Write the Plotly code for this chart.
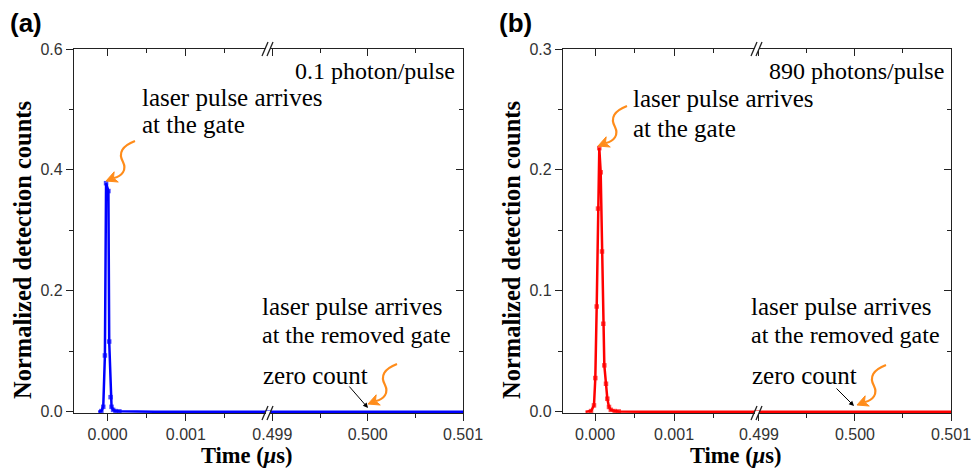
import math
import plotly.graph_objects as go

W, H = 971, 468

# ---------------- data (time in microseconds, normalized counts) ----------------
t_a_peak = [-0.00012, -0.00008, -0.000056, -0.000035, -0.00002, 0.00001, 0.00002,
            0.000038, 0.00005, 0.00007, 0.0001, 0.00015, 0.0003, 0.0006, 0.0009,
            0.0012, 0.0015, 0.0018, 0.0021]
c_a_peak = [0.0, 0.001, 0.008, 0.093, 0.378, 0.365, 0.116,
            0.024, 0.008, 0.003, 0.001, 0.0005, 0.0, 0.0, 0.0,
            0.0, 0.0, 0.0, 0.0]
t_b_peak = [-0.00012, -0.00005, -0.000013, 0.000004, 0.0000215, 0.000038, 0.0000544,
            0.000072, 0.0000886, 0.000105, 0.000118, 0.000139, 0.000156, 0.000177,
            0.0002, 0.00025, 0.0003, 0.0006, 0.0009, 0.0012, 0.0015, 0.0018, 0.0021]
c_b_peak = [0.0, 0.0005, 0.0052, 0.0278, 0.087, 0.168, 0.218,
            0.198, 0.1325, 0.0727, 0.0383, 0.0231, 0.0107, 0.0039,
            0.0015, 0.0005, 0.0002, 0.0, 0.0, 0.0, 0.0, 0.0, 0.0]
t_tail = [0.4989, 0.4992, 0.4995, 0.4998, 0.5001, 0.5004, 0.5007, 0.5010]
c_a_tail = [0.0, 0.0, 0.0, 0.0, 0.0, 0.0, 0.0, 0.0]
c_b_tail = [0.0, 0.0, 0.0, 0.0, 0.0, 0.0, 0.0, 0.0]

x1_ticks = [0.0, 0.001]
x1_labels = ["0.000", "0.001"]
x1_minor = [0.0005, 0.0015]
x2_ticks = [0.499, 0.500, 0.501]
x2_labels = ["0.499", "0.500", "0.501"]
x2_minor = [0.4995, 0.5005]
ya_ticks = [0.0, 0.2, 0.4, 0.6]
ya_labels = ["0.0", "0.2", "0.4", "0.6"]
ya_minor = [0.1, 0.3, 0.5]
yb_ticks = [0.0, 0.1, 0.2, 0.3]
yb_labels = ["0.0", "0.1", "0.2", "0.3"]
yb_minor = [0.05, 0.15, 0.25]

# ---------------- layout geometry (pixel coords -> paper) ----------------
def px(x):
    return x / W

def py(y):
    return 1 - y / H

Y_TOP, Y_BOT = 49, 413
panels = [
    dict(x0=74, xb=268, x1=463, r1=[-0.00043, 0.00205], r2=[0.498954, 0.501],
         yr=[-0.0022, 0.6], yt=ya_ticks, yl=ya_labels, ym=ya_minor,
         t1=t_a_peak, c1=c_a_peak, c2=c_a_tail, color="#0000FF"),
    dict(x0=563, xb=757, x1=951, r1=[-0.000405, 0.00205], r2=[0.49898, 0.501],
         yr=[-0.0011, 0.3], yt=yb_ticks, yl=yb_labels, ym=yb_minor,
         t1=t_b_peak, c1=c_b_peak, c2=c_b_tail, color="#FF0000"),
]

AXC = "#222222"
TICKFONT = dict(family="Liberation Sans", size=16, color="#333333")

def axis_base(ticks):
    return dict(showgrid=False, zeroline=False, showline=True, linecolor=AXC,
                linewidth=1.3, ticks=ticks, ticklen=7, tickwidth=1.2, tickcolor=AXC,
                tickfont=TICKFONT, layer="below traces", automargin=False,
                ticklabeloverflow="allow")

def minor(vals, ticks):
    return dict(tickvals=vals, ticks=ticks, ticklen=4, tickwidth=1.2,
                tickcolor=AXC, showgrid=False)

fig = go.Figure()
layout = dict(template="none", width=W, height=H, margin=dict(l=0, r=0, t=0, b=0, pad=0),
              paper_bgcolor="white", plot_bgcolor="white", showlegend=False)

ydom = [py(Y_BOT), py(Y_TOP)]
for i, p in enumerate(panels):
    xb = 4 * i
    yb = 2 * i
    xa = [f"x{xb + k}" if xb + k > 1 else "x" for k in (1, 2, 3, 4)]
    ya = [f"y{yb + k}" if yb + k > 1 else "y" for k in (1, 2)]
    xn = ["xaxis" + a[1:] for a in xa]
    yn = ["yaxis" + a[1:] for a in ya]
    d1 = [px(p["x0"]), px(p["xb"])]
    d2 = [px(p["xb"]), px(p["x1"])]

    a = axis_base("outside")
    a.update(domain=d1, range=p["r1"], anchor=ya[0], tickvals=x1_ticks, ticktext=x1_labels,
             minor=minor(x1_minor, "outside"))
    layout[xn[0]] = a
    a = axis_base("outside")
    a.update(domain=d2, range=p["r2"], anchor=ya[0], tickvals=x2_ticks, ticktext=x2_labels,
             minor=minor(x2_minor, "outside"))
    layout[xn[1]] = a
    a = axis_base("inside")
    a.update(overlaying=xa[0], side="top", anchor=ya[0], range=p["r1"], tickvals=x1_ticks,
             showticklabels=False, minor=minor(x1_minor, "inside"))
    layout[xn[2]] = a
    a = axis_base("inside")
    a.update(overlaying=xa[1], side="top", anchor=ya[0], range=p["r2"], tickvals=x2_ticks,
             showticklabels=False, minor=minor(x2_minor, "inside"))
    layout[xn[3]] = a
    a = axis_base("outside")
    a.update(domain=ydom, range=p["yr"], anchor=xa[0], tickvals=p["yt"], ticktext=p["yl"],
             minor=minor(p["ym"], "outside"))
    layout[yn[0]] = a
    a = axis_base("inside")
    a.update(overlaying=ya[0], side="right", anchor=xa[1], range=p["yr"], tickvals=p["yt"],
             showticklabels=False, minor=minor(p["ym"], "inside"))
    layout[yn[1]] = a

    sizes1 = [4.5 if c > 0 else 0 for c in p["c1"]]
    fig.add_trace(go.Scatter(x=p["t1"], y=p["c1"], xaxis=xa[0], yaxis=ya[0],
                             mode="lines+markers", hoverinfo="skip",
                             line=dict(color=p["color"], width=2.5),
                             marker=dict(symbol="square", size=sizes1, color=p["color"],
                                         line=dict(width=0))))
    fig.add_trace(go.Scatter(x=t_tail, y=p["c2"], xaxis=xa[1], yaxis=ya[0],
                             mode="lines", hoverinfo="skip",
                             line=dict(color=p["color"], width=2.5)))
    for xx, yy in ((xa[2], ya[0]), (xa[3], ya[0]), (xa[1], ya[1])):
        fig.add_trace(go.Scatter(x=[], y=[], xaxis=xx, yaxis=yy, hoverinfo="skip"))

fig.update_layout(**layout)

# ---------------- annotations & decorations ----------------
SERIF = "Liberation Serif"
ann = []

def text(x, y, s, size=25, anchor="left", family=SERIF, angle=0):
    ann.append(dict(x=px(x), y=py(y), xref="paper", yref="paper", text=s, showarrow=False,
                    xanchor=anchor, yanchor="middle", textangle=angle, borderpad=0,
                    font=dict(family=family, size=size, color="black")))

for off, lab, note in ((0, "(a)", "0.1 photon/pulse"), (489, "(b)", "890 photons/pulse")):
    text(9 + off, 23, f"<b>{lab}</b>", size=26, family="Liberation Sans")
    text(456 + off, 71, note, size=24, anchor="right")
    text(22 + off, 250, "<b>Normalized detection counts</b>", size=24.5, anchor="center", angle=-90)
    text(246 + off, 455, "<b>Time (<i>μ</i>s)</b>", size=22.5, anchor="center")
    text(261 + off, 306, "laser pulse arrives")
    text(261 + off, 335, "at the removed gate", size=24)
    text(262 + off, 375, "zero count")

text(141, 97, "laser pulse arrives")
text(141, 125, "at the gate")
text(632, 98, "laser pulse arrives")
text(632, 128, "at the gate")

for tip, tail in (((368, 408), (348, 385)), ((854, 406), (835, 387))):
    ann.append(dict(x=px(tip[0]), y=py(tip[1]), xref="paper", yref="paper", text="",
                    showarrow=True, ax=tail[0] - tip[0], ay=tail[1] - tip[1],
                    arrowhead=2, arrowsize=1, arrowwidth=1, arrowcolor="black"))

shapes = []
ORANGE = "#FF8C1A"

def squiggle(tx, ty):
    pts = [(29, -40), (16, -35), (12, -28), (17, -19), (21, -11), (16, -5), (8, -3)]
    P = [(tx + a, ty + b) for a, b in pts]
    path = "M {} {} C {} {}, {} {}, {} {} C {} {}, {} {}, {} {}".format(
        *sum(([px(x), py(y)] for x, y in P), []))
    shapes.append(dict(type="path", xref="paper", yref="paper", path=path,
                       line=dict(color=ORANGE, width=2.2)))
    dx, dy = -10, 4
    L = math.hypot(dx, dy)
    ux, uy = dx / L, dy / L
    nx, ny = -uy, ux
    bx, by = tx - 11 * ux, ty - 11 * uy
    c1 = (bx + 5.5 * nx, by + 5.5 * ny)
    c2 = (bx - 5.5 * nx, by - 5.5 * ny)
    m = (bx + 3 * ux, by + 3 * uy)
    tri = "M {} {} L {} {} L {} {} L {} {} Z".format(px(tx), py(ty), px(c1[0]), py(c1[1]),
                                                      px(m[0]), py(m[1]), px(c2[0]), py(c2[1]))
    shapes.append(dict(type="path", xref="paper", yref="paper", path=tri,
                       fillcolor=ORANGE, line=dict(color=ORANGE, width=1)))

for t in ((106, 181), (598, 146), (368, 404), (857, 405)):
    squiggle(*t)

for bxp in (268, 757):
    for byp in (Y_TOP, Y_BOT):
        shapes.append(dict(type="rect", xref="paper", yref="paper",
                           x0=px(bxp - 2), x1=px(bxp + 2), y0=py(byp + 2), y1=py(byp - 2),
                           fillcolor="white", line=dict(width=0)))
        for dxo in (-3, 2):
            shapes.append(dict(type="line", xref="paper", yref="paper",
                               x0=px(bxp + dxo - 3), y0=py(byp + 7),
                               x1=px(bxp + dxo + 3), y1=py(byp - 7),
                               line=dict(color=AXC, width=1.3)))

fig.update_layout(annotations=ann, shapes=shapes)
# remove the browser's default 8px page margin so the figure fills the window
fig.write_html("out.html", config={"displayModeBar": False},
               post_script="document.body.style.margin='0';document.body.style.overflow='hidden';")
